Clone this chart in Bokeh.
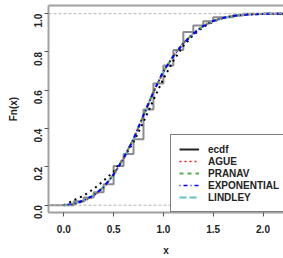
from bokeh.plotting import figure
from bokeh.models import (LinearAxis, FixedTicker, PrintfTickFormatter, Legend,
                          LegendItem, Span, Range1d)
from bokeh.embed import file_html
from bokeh.resources import INLINE

# ---------------- data ----------------
x_ticks = [0.0, 0.5, 1.0, 1.5, 2.0]
y_ticks = [0.0, 0.2, 0.4, 0.6, 0.8, 1.0]
ref_levels = [0.0, 1.0]

# empirical cdf: jump locations and levels after each jump
ecdf_x = [0.1, 0.2, 0.3, 0.4, 0.5, 0.6, 0.7, 0.8, 0.9, 1.0, 1.1, 1.2, 1.3, 1.4, 1.5, 1.7, 1.8]
ecdf_y = [0.02, 0.04, 0.068, 0.11, 0.205, 0.268, 0.345, 0.50, 0.635, 0.73, 0.81, 0.905,
          0.938, 0.96, 0.982, 0.99, 1.0]

# fitted cdfs
fit_x = [0.0, 0.1, 0.2, 0.3, 0.4, 0.5, 0.6, 0.7, 0.8, 0.9, 1.0, 1.1, 1.2, 1.3, 1.4,
         1.5, 1.6, 1.7, 1.8, 1.9, 2.0, 2.1, 2.2, 2.3]
ague = [0.0, 0.005, 0.020, 0.048, 0.092, 0.158, 0.243, 0.344, 0.465, 0.588, 0.697, 0.780,
        0.848, 0.898, 0.937, 0.963, 0.979, 0.989, 0.994, 0.997, 0.999, 1.0, 1.0, 1.0]
pranav = [0.0, 0.006, 0.023, 0.051, 0.094, 0.160, 0.246, 0.347, 0.468, 0.590, 0.698, 0.779,
          0.846, 0.896, 0.936, 0.962, 0.978, 0.988, 0.994, 0.997, 0.999, 1.0, 1.0, 1.0]
exponential = [0.0, 0.007, 0.025, 0.052, 0.095, 0.160, 0.245, 0.345, 0.470, 0.592, 0.700, 0.778,
               0.845, 0.895, 0.935, 0.962, 0.978, 0.988, 0.994, 0.997, 0.999, 1.0, 1.0, 1.0]
lindley = [0.0, 0.006, 0.024, 0.051, 0.094, 0.160, 0.245, 0.346, 0.468, 0.590, 0.698, 0.779,
           0.846, 0.896, 0.936, 0.962, 0.978, 0.988, 0.994, 0.997, 0.999, 1.0, 1.0, 1.0]

# extra black dotted curve (not in legend)
dot_x = [0.0, 0.05, 0.1, 0.2, 0.3, 0.4, 0.5, 0.6, 0.7, 0.8, 0.9, 1.0, 1.1, 1.2, 1.3, 1.4,
         1.5, 1.6, 1.7, 1.8, 1.9, 2.0, 2.1, 2.2, 2.3]
dot_y = [0.0, 0.012, 0.026, 0.050, 0.085, 0.128, 0.175, 0.245, 0.330, 0.435, 0.550, 0.660,
         0.755, 0.832, 0.888, 0.930, 0.959, 0.977, 0.988, 0.994, 0.997, 0.999, 1.0, 1.0, 1.0]

FONT = "Liberation Sans"
X0, X1 = -0.1536, 2.2058
Y0, Y1 = -0.0381, 1.0428
NAN = float("nan")

p = figure(width=283, height=258,
           x_range=Range1d(X0, X1), y_range=Range1d(Y0, Y1),
           output_backend="svg", toolbar_location=None,
           min_border_left=48, min_border_right=0, min_border_top=5, min_border_bottom=46)
p.outline_line_color = None
p.grid.visible = False
p.background_fill_color = "white"
p.border_fill_color = "white"

for ax in (p.xaxis[0], p.yaxis[0]):
    ax.axis_line_color = "#a0a0a0"
    ax.axis_line_width = 2
    ax.major_tick_line_color = "#555555"
    ax.major_tick_out = 4
    ax.major_tick_in = 0
    ax.minor_tick_line_color = None
    ax.major_label_text_font = FONT
    ax.major_label_text_font_size = "10px"
    ax.major_label_text_font_style = "bold"
    ax.major_label_text_color = "#222222"
    ax.axis_label_text_font = FONT
    ax.axis_label_text_font_size = "10px"
    ax.axis_label_text_font_style = "bold"
    ax.axis_label_text_color = "#222222"
    ax.formatter = PrintfTickFormatter(format="%.1f")

p.xaxis.ticker = FixedTicker(ticks=x_ticks)
p.yaxis.ticker = FixedTicker(ticks=y_ticks)
p.xaxis.axis_label = "x"
p.yaxis.axis_label = "Fn(x)"
p.xaxis.major_label_standoff = 8
p.xaxis.axis_label_standoff = 9
p.yaxis.major_label_standoff = 6
p.yaxis.axis_label_standoff = 8
p.yaxis.major_label_orientation = 3.14159 / 2

# top edge of the box
top = LinearAxis(ticker=FixedTicker(ticks=[]), major_tick_out=0, major_tick_in=0,
                 minor_tick_out=0, minor_tick_in=0, major_label_standoff=0,
                 axis_line_color="#a0a0a0", axis_line_width=2,
                 major_label_text_font_size="0px")
p.add_layout(top, "above")

for lev in ref_levels:
    p.add_layout(Span(location=lev, dimension="width", line_color="#b3b3b3",
                      line_width=1, line_dash="3 2"))

# ecdf as a step line spanning the plot width
sx = [X0 - 1] + ecdf_x + [X1 + 1]
sy = [0.0] + ecdf_y + [ecdf_y[-1]]
p.step(sx, sy, mode="after", line_color="#8c8c8c", line_width=2)

# fitted curves
p.line(dot_x, dot_y, line_color="black", line_width=2, line_dash="2 4")
p.line(fit_x, lindley, line_color="#5fc4c4", line_width=2, line_dash="7 3")
p.line(fit_x, pranav, line_color="#4caf50", line_width=2, line_dash="4 4")
p.line(fit_x, ague, line_color="#dd2222", line_width=2, line_dash="1 3")
p.line(fit_x, exponential, line_color="#0000ff", line_width=2, line_dash="1 3 4 3")

# legend glyphs (renderers with a single NaN point, used only for legend display)
le = p.line([NAN], [NAN], line_color="#222222", line_width=2)
la = p.line([NAN], [NAN], line_color="#dd2222", line_width=1.5, line_dash="2 3")
lp = p.line([NAN], [NAN], line_color="#55b055", line_width=2, line_dash="4 4")
lx = p.line([NAN], [NAN], line_color="#0000ff", line_width=1.5, line_dash="1 3 4 3")
ll = p.line([NAN], [NAN], line_color="#5fc4c4", line_width=2, line_dash="7 3")

legend = Legend(items=[LegendItem(label="ecdf", renderers=[le]),
                       LegendItem(label="AGUE", renderers=[la]),
                       LegendItem(label="PRANAV", renderers=[lp]),
                       LegendItem(label="EXPONENTIAL", renderers=[lx]),
                       LegendItem(label="LINDLEY", renderers=[ll])],
                location=(122, 0), padding=8, margin=0, spacing=0,
                glyph_width=20, glyph_height=12, label_height=12, label_standoff=9,
                label_text_font=FONT, label_text_font_size="10px",
                label_text_font_style="bold", label_text_color="#222222",
                border_line_color="black", border_line_width=1,
                background_fill_color="white", background_fill_alpha=1.0)
p.add_layout(legend)

open("out.html", "w").write(file_html(p, INLINE))
